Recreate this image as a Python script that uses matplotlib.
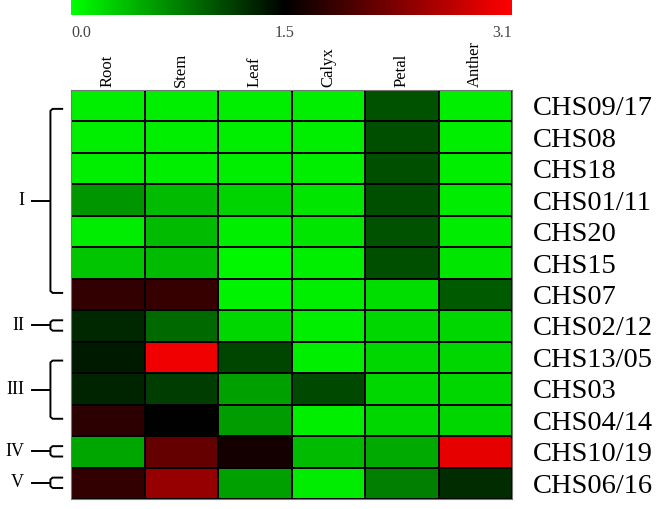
import matplotlib
matplotlib.use("Agg")
import matplotlib.pyplot as plt
import numpy as np
from matplotlib.colors import LinearSegmentedColormap, Normalize

tissues = ["Root", "Stem", "Leaf", "Calyx", "Petal", "Anther"]
genes = ["CHS09/17", "CHS08", "CHS18", "CHS01/11", "CHS20", "CHS15", "CHS07",
         "CHS02/12", "CHS13/05", "CHS03", "CHS04/14", "CHS10/19", "CHS06/16"]

# expression values (0.0 green - 1.5 black - 3.1 red)
root = [0.10, 0.10, 0.10, 0.62, 0.12, 0.35, 1.81, 1.26, 1.35, 1.29, 1.78, 0.53, 1.81]
stem = [0.10, 0.10, 0.10, 0.41, 0.40, 0.40, 1.85, 0.88, 3.00, 1.15, 1.50, 2.13, 2.44]
leaf = [0.10, 0.10, 0.10, 0.26, 0.10, 0.05, 0.08, 0.25, 1.10, 0.56, 0.59, 1.63, 0.56]
calyx = [0.10, 0.10, 0.10, 0.15, 0.15, 0.10, 0.10, 0.10, 0.10, 1.07, 0.10, 0.41, 0.12]
petal = [1.02, 1.04, 1.03, 1.04, 1.02, 1.04, 0.20, 0.25, 0.25, 0.25, 0.25, 0.50, 0.76]
anther = [0.10, 0.10, 0.10, 0.12, 0.12, 0.15, 0.98, 0.25, 0.25, 0.25, 0.25, 2.94, 1.24]

cbar_ticks = [0.0, 1.5, 3.1]
cbar_labels = ["0.0", "1.5", "3.1"]

# clusters: (label, first row, last row)
groups = [("I", 0, 6), ("II", 7, 7), ("III", 8, 10), ("IV", 11, 11), ("V", 12, 12)]

data = np.array([root, stem, leaf, calyx, petal, anther]).T

vmin, vmid, vmax = 0.0, 1.5, 3.1
cmap = LinearSegmentedColormap.from_list(
    "gkr", [(0.0, (0, 1, 0)), (vmid / vmax, (0, 0, 0)), (1.0, (1, 0, 0))])
norm = Normalize(vmin, vmax)

W, H = 669, 509
fig = plt.figure(figsize=(W / 100, H / 100), dpi=100)
serif = ["Liberation Serif", "DejaVu Serif"]

ax = fig.add_axes([71 / W, (H - 499) / H, 441 / W, 409 / H])
mesh = ax.pcolormesh(data, cmap=cmap, norm=norm, edgecolors="black", linewidth=1.3)
ax.set_xlim(0, len(tissues))
ax.set_ylim(len(genes), 0)
for s in ax.spines.values():
    s.set_color("#777777")
    s.set_linewidth(0.8)

ax.xaxis.tick_top()
ax.set_xticks(np.arange(len(tissues)) + 0.5)
ax.set_xticklabels(tissues, rotation=90, fontsize=12, family=serif, va="bottom")
ax.tick_params(axis="x", length=0, pad=2)

ax.yaxis.tick_right()
ax.set_yticks(np.arange(len(genes)) + 0.5)
ax.set_yticklabels(genes, fontsize=20.5, family=serif)
ax.tick_params(axis="y", length=0, pad=15)

# brackets on the left
xv, xh, xs, xl = -0.28, -0.12, -0.53, -0.64
for name, r0, r1 in groups:
    if r0 == r1:
        top, bot = r0 + 0.32, r0 + 0.65
    else:
        top, bot = r0 + 0.6, r1 + 0.45
    mid = (top + bot) / 2
    kw = dict(color="black", lw=1.4, clip_on=False)
    ax.plot([xh, xv + 0.03, xv, xv, xv + 0.03, xh],
            [top, top, top + 0.06, bot - 0.06, bot, bot], **kw)
    ax.plot([xs, xv], [mid, mid], **kw)
    ax.text(xl, mid, name, ha="right", va="center", fontsize=13, family=serif)

# colour bar on top
cax = fig.add_axes([71 / W, (H - 15) / H, 441 / W, 15 / H])
cb = fig.colorbar(mesh, cax=cax, orientation="horizontal", ticks=cbar_ticks)
cb.outline.set_visible(False)
cb.ax.set_xticklabels(cbar_labels, family=serif, fontsize=11.5, color="#444444")
cb.ax.tick_params(length=0, pad=7)
labs = cb.ax.get_xticklabels()
labs[0].set_ha("left")
labs[-1].set_ha("right")

fig.savefig("out.png", dpi=100)
